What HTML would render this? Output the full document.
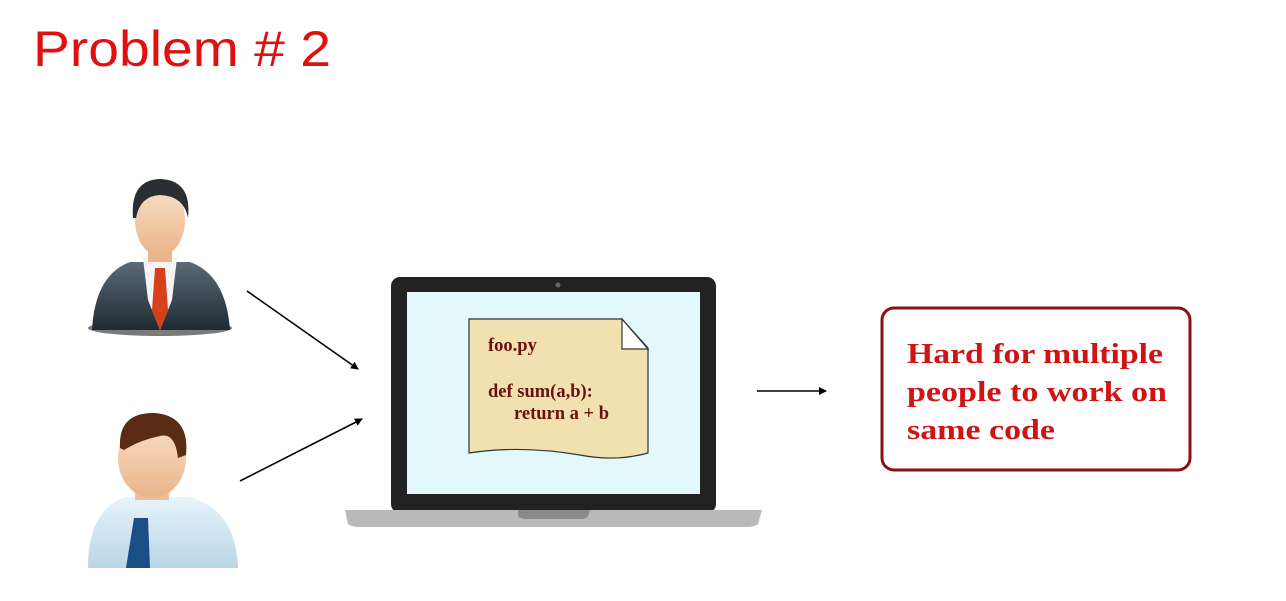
<!DOCTYPE html>
<html><head><meta charset="utf-8"><style>
html,body{margin:0;padding:0;background:#fff;}
svg{display:block}
</style></head><body>
<svg width="1286" height="601" viewBox="0 0 1286 601" xmlns="http://www.w3.org/2000/svg">
<defs>
<marker id="ah" markerWidth="8" markerHeight="8" refX="7" refY="4" orient="auto" markerUnits="userSpaceOnUse">
<path d="M0,0 L8,4 L0,8 Z" fill="#000"/></marker>
<linearGradient id="face" x1="0" y1="0" x2="0" y2="1"><stop offset="0" stop-color="#fbe0c8"/><stop offset="1" stop-color="#e9b58a"/></linearGradient>
<linearGradient id="suit" x1="0" y1="0" x2="0" y2="1"><stop offset="0" stop-color="#5a6a78"/><stop offset="1" stop-color="#1f2a33"/></linearGradient>
<linearGradient id="shirt" x1="0" y1="0" x2="0" y2="1"><stop offset="0" stop-color="#e6f3fb"/><stop offset="1" stop-color="#b9d6e6"/></linearGradient>
</defs>
<text x="33" y="66" font-family="Liberation Sans, sans-serif" font-size="50" fill="#e01010" textLength="298" lengthAdjust="spacingAndGlyphs">Problem # 2</text>

<!-- person 1 -->
<ellipse cx="160" cy="328" rx="72" ry="8" fill="#222" opacity="0.6"/>
<path d="M92,330 Q95,275 130,262 L190,262 Q226,275 230,330 Z" fill="url(#suit)"/>
<path d="M143,258 L177,258 L172,300 L160,330 L148,300 Z" fill="#f4f4f4"/>
<path d="M155,268 L165,268 L168,310 L160,330 L152,310 Z" fill="#d8401c"/>
<rect x="148" y="238" width="24" height="24" fill="#e9b58a"/>
<ellipse cx="160" cy="220" rx="25" ry="36" fill="url(#face)"/>
<path d="M133,218 Q130,180 160,179 Q192,180 188,218 Q184,196 160,195 Q140,196 136,218 Z" fill="#2a2e33"/>

<!-- person 2 -->
<path d="M88,568 Q88,510 125,497 L190,497 Q236,510 238,568 Z" fill="url(#shirt)"/>
<path d="M134,518 L148,518 L150,568 L126,568 Z" fill="#1a4f86"/>
<rect x="135" y="478" width="34" height="22" fill="#e9bf9e"/>
<ellipse cx="152" cy="458" rx="34" ry="40" fill="url(#face)"/>
<path d="M120,448 Q118,412 155,413 Q190,416 186,455 L178,458 Q175,432 160,436 Q140,440 124,450 Z" fill="#5a2c14"/>

<!-- arrows -->
<line x1="247" y1="291" x2="358" y2="369" stroke="#000" stroke-width="1.6" marker-end="url(#ah)"/>
<line x1="240" y1="481" x2="362" y2="419" stroke="#000" stroke-width="1.6" marker-end="url(#ah)"/>
<line x1="757" y1="391" x2="826" y2="391" stroke="#000" stroke-width="1.6" marker-end="url(#ah)"/>

<!-- laptop -->
<rect x="391" y="277" width="325" height="236" rx="9" fill="#222"/>
<rect x="407" y="292" width="293" height="202" fill="#e2f8fc"/>
<circle cx="558" cy="285" r="2.5" fill="#666"/>
<path d="M345,510 L762,510 L758,524 Q755,527 745,527 L362,527 Q351,527 348,524 Z" fill="#b9b9b9"/>
<path d="M518,510 L590,510 L588,516 Q586,519 580,519 L528,519 Q520,519 518,516 Z" fill="#8a8a8a"/>

<!-- note -->
<path d="M469,319 L622,319 L648,348 L648,453 Q615,462 580,455 Q520,445 469,453 Z" fill="#f2e1b0" stroke="#333" stroke-width="1.2"/>
<path d="M622,319 L622,349 L648,349 Z" fill="#fff" stroke="#333" stroke-width="1.2"/>
<g font-family="Liberation Serif, serif" font-weight="bold" font-size="18.5" fill="#6b1010">
<text x="488" y="351">foo.py</text>
<text x="488" y="397">def sum(a,b):</text>
<text x="514" y="419">return a + b</text>
</g>

<!-- result box -->
<rect x="882" y="308" width="308" height="162" rx="12" fill="#fff" stroke="#8b1010" stroke-width="3"/>
<g font-family="Liberation Serif, serif" font-weight="bold" font-size="28" fill="#d01414">
<text x="907" y="363" textLength="256" lengthAdjust="spacingAndGlyphs">Hard for multiple</text>
<text x="907" y="401" textLength="260" lengthAdjust="spacingAndGlyphs">people to work on</text>
<text x="907" y="439" textLength="148" lengthAdjust="spacingAndGlyphs">same code</text>
</g>
</svg>
</body></html>
